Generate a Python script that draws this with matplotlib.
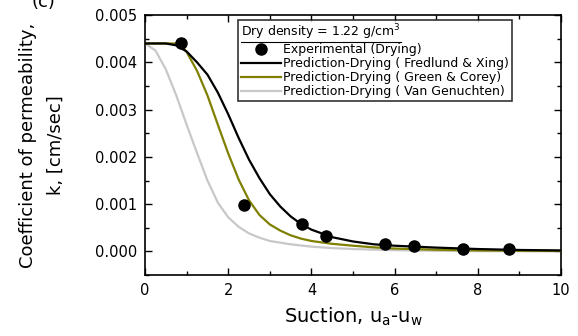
import matplotlib
matplotlib.use('Agg')
from matplotlib import pyplot as plt, ticker
from matplotlib.lines import Line2D

plt.rcParams['font.family'] = ['DejaVu Sans']
plt.rcParams['mathtext.default'] = 'regular'

# experimental points (drying)
exp_x = [0.87, 2.39, 3.78, 4.34, 5.77, 6.47, 7.65, 8.75]
exp_k = [0.00442, 0.00099, 0.00057, 0.00032, 0.00015, 0.00011, 0.00006, 0.00004]

# Fredlund & Xing prediction
fx_x = [0, 0.5, 0.75, 1.0, 1.25, 1.5, 1.75, 2.0, 2.25, 2.5, 2.75, 3.0, 3.25, 3.5, 3.75, 4.0,
        4.5, 5.0, 5.5, 6.0, 7.0, 8.0, 9.0, 10]
fx_k = [0.00440, 0.00440, 0.00436, 0.00423, 0.00400, 0.00374, 0.00336, 0.00290, 0.00240, 0.00194,
        0.00155, 0.00121, 0.00095, 0.00074, 0.00058, 0.00046, 0.00030, 0.00021, 0.00015, 0.00012,
        0.00008, 0.00005, 0.00003, 0.00002]

# Green & Corey prediction
gc_x = [0, 0.82, 1.0, 1.25, 1.5, 1.75, 2.0, 2.25, 2.5, 2.75, 3.0, 3.25, 3.5, 3.75, 4.0,
        4.5, 5.0, 5.5, 6.0, 7.0, 8.0, 10]
gc_k = [0.00440, 0.00440, 0.00422, 0.00382, 0.00330, 0.00268, 0.00207, 0.00152, 0.00108, 0.00077,
        0.00057, 0.00044, 0.00034, 0.00027, 0.00022, 0.00016, 0.00012, 0.000085, 0.00006, 0.000035,
        0.00002, 0.00001]

# Van Genuchten prediction
vg_x = [0, 0.25, 0.5, 0.75, 1.0, 1.25, 1.5, 1.75, 2.0, 2.25, 2.5, 2.75, 3.0, 3.5, 4.0, 4.5,
        5.0, 6.0, 7.0, 8.0, 10]
vg_k = [0.00440, 0.00425, 0.00385, 0.00330, 0.00268, 0.00208, 0.00150, 0.00103, 0.00072, 0.00052,
        0.00038, 0.00029, 0.00022, 0.00015, 0.00010, 0.00007, 0.00005, 0.000025, 0.000012, 0.000005,
        0.0]

fig = plt.figure(figsize=(5.78, 3.36), dpi=100)
ax = fig.add_axes([0.251, 0.1815, 0.7196, 0.7735])

ax.plot(vg_x, vg_k, color='#c8c8c8', lw=1.6, label='Prediction-Drying ( Van Genuchten)', zorder=2)
ax.plot(gc_x, gc_k, color='#808000', lw=1.6, label='Prediction-Drying ( Green & Corey)', zorder=3)
ax.plot(fx_x, fx_k, color='black', lw=1.6, label='Prediction-Drying ( Fredlund & Xing)', zorder=4)
ax.plot(exp_x, exp_k, 'o', color='black', ms=8, label='Experimental (Drying)', zorder=5)

ax.set_xlim(0, 10)
ax.set_ylim(-0.0005, 0.005)
ax.xaxis.set_major_locator(ticker.MultipleLocator(2))
ax.xaxis.set_minor_locator(ticker.MultipleLocator(1))
ax.yaxis.set_major_locator(ticker.MultipleLocator(0.001))
ax.yaxis.set_minor_locator(ticker.MultipleLocator(0.0005))
ax.yaxis.set_major_formatter(ticker.FormatStrFormatter('%.3f'))
ax.tick_params(which='both', direction='in', top=True, right=True, labelsize=10.5, width=1, pad=5.5)
ax.tick_params(which='major', length=5)
ax.tick_params(which='minor', length=3)
for s in ax.spines.values():
    s.set_linewidth(1.2)

ax.set_xlabel('Suction, u$_a$-u$_w$', fontsize=14, labelpad=6)
ax.set_ylabel('Coefficient of permeability,\nk, [cm/sec]', fontsize=13, labelpad=22, linespacing=1.7)
fig.text(0.055, 0.995, '(c)', fontsize=13, va='center', ha='left')

handles, labels = ax.get_legend_handles_labels()
order = [3, 2, 1, 0]
leg = ax.legend([handles[i] for i in order], [labels[i] for i in order],
                title='Dry density = 1.22 g/cm$^3$', title_fontsize=9, fontsize=9,
                loc='upper left', bbox_to_anchor=(0.224, 0.983), borderaxespad=0,
                frameon=True, fancybox=False, handlelength=3.2, handletextpad=0.1,
                borderpad=0.25, labelspacing=0.08, alignment='left')
leg.get_frame().set_edgecolor('black')
leg.get_frame().set_linewidth(1.2)

# underline the legend title
fig.canvas.draw()
bb = leg.get_title().get_window_extent().transformed(fig.transFigure.inverted())
fig.add_artist(Line2D([bb.x0, bb.x1], [bb.y0 + 0.002, bb.y0 + 0.002], color='black', lw=0.8,
                      transform=fig.transFigure))

fig.savefig('out.png', dpi=100)
